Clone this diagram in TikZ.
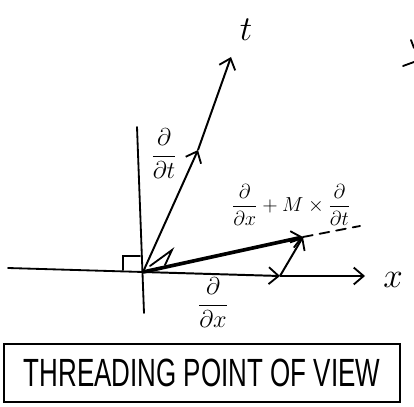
\documentclass[tikz,border=0pt]{standalone}
\usepackage{amsmath}
\usepackage{fontspec}
\usepackage{tikz}
\usetikzlibrary{arrows.meta, positioning}
\newfontfamily\handfont[FakeStretch=0.66]{Liberation Sans}

\begin{document}
\begin{tikzpicture}[x=0.025cm, y=-0.025cm,
  axis/.style={line width=1.3pt, line cap=round},
  vec/.style={-{Straight Barb[length=7pt, width=12pt, line width=1.3pt]}, line width=1.4pt},
  bigvec/.style={-{Straight Barb[length=7pt, width=12pt, line width=1.3pt]}, line width=2.6pt},
  lbl/.style={font=\LARGE},
  caption/.style={draw, line width=1.2pt, minimum width=9.9cm, minimum height=1.45cm,
    font=\handfont\fontsize{28}{28}\selectfont}
]
  \useasboundingbox (0,0) rectangle (414,407);

  \coordinate (O) at (143,272);
  \coordinate (xleft) at (8,268);
  \coordinate (xend) at (365,276);
  \coordinate (vtop) at (137,127);
  \coordinate (vbot) at (144,313);
  \coordinate (tmid) at (198,150);
  \coordinate (tend) at (231,57);
  \coordinate (dxtip) at (280,276);
  \coordinate (sumtip) at (303,237);
  \coordinate (dashend) at (360,226);

  % axes
  \draw[axis] (vtop) -- (vbot);
  \draw[axis] (xleft) -- (O);
  \draw[vec] (O) -- (dxtip);
  \draw[vec] (dxtip) -- (xend);
  \draw[vec] (O) -- (tmid);
  \draw[vec] (tmid) -- (tend);

  % combined vector
  \draw[bigvec] (O) -- (sumtip);
  \draw[axis, dashed, dash pattern=on 7pt off 5pt] (sumtip) -- (dashend);
  \draw[vec] (dxtip) -- (sumtip);

  % angle marks
  \draw[axis] (123,270) -- (123,256) -- (140,256);
  \draw[axis] (150,266) -- (172,250) -- (165,265);

  \node[lbl, font=\fontsize{36}{36}\selectfont] (tlbl) at (246,30) {$t$};
  \node[lbl, font=\fontsize{30}{30}\selectfont] (xlbl) at (393,280) {$x$};
  \node[lbl] (dtlbl) at (164,154) {$\dfrac{\partial}{\partial t}$};
  \node[lbl] (dxlbl) at (213,303) {$\dfrac{\partial}{\partial x}$};
  \node[lbl, font=\Large] (sumlbl) at (291,205) {$\dfrac{\partial}{\partial x}+M\times\dfrac{\partial}{\partial t}$};

  % cut-off mark at the edge
  \draw[axis] (411,40) -- (414,48);
  \draw[axis] (403,66) -- (414,62);

  \node[caption] (cap) at (202,373) {THREADING POINT OF VIEW};
\end{tikzpicture}
\end{document}
